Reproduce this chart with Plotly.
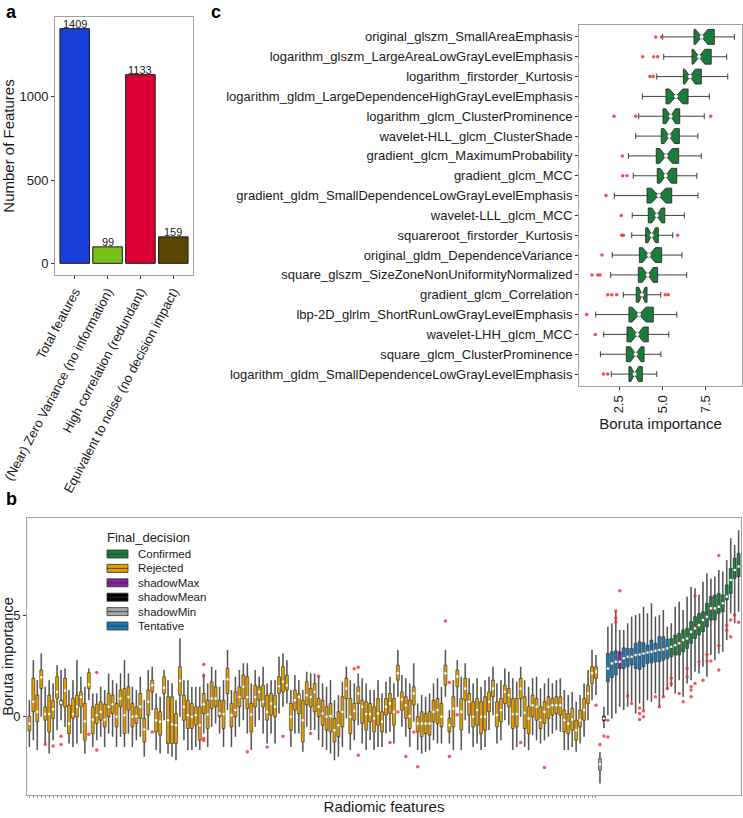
import plotly.graph_objects as go

W, H = 743, 818
def px(x): return x / W
def py(y): return 1 - y / H

FONT = "Liberation Sans, Arial, sans-serif"
TXT = "#1a1a1a"
FRAME = "#a0a0a0"

# ---------------- Panel a data ----------------
a_categories = ["Total features", "(Near) Zero Variance (no information)",
                "High correlation (redundant)", "Equivalent to noise (no decision impact)"]
a_counts = [1409, 99, 1133, 159]
a_colors = ["#1a3fd9", "#79bf1b", "#d80032", "#5a4500"]

# ---------------- Panel c data (top to bottom) ----------------
c_features = [
    "original_glszm_SmallAreaEmphasis",
    "logarithm_glszm_LargeAreaLowGrayLevelEmphasis",
    "logarithm_firstorder_Kurtosis",
    "logarithm_gldm_LargeDependenceHighGrayLevelEmphasis",
    "logarithm_glcm_ClusterProminence",
    "wavelet-HLL_glcm_ClusterShade",
    "gradient_glcm_MaximumProbability",
    "gradient_glcm_MCC",
    "gradient_gldm_SmallDependenceLowGrayLevelEmphasis",
    "wavelet-LLL_glcm_MCC",
    "squareroot_firstorder_Kurtosis",
    "original_gldm_DependenceVariance",
    "square_glszm_SizeZoneNonUniformityNormalized",
    "gradient_glcm_Correlation",
    "lbp-2D_glrlm_ShortRunLowGrayLevelEmphasis",
    "wavelet-LHH_glcm_MCC",
    "square_glcm_ClusterProminence",
    "logarithm_gldm_SmallDependenceLowGrayLevelEmphasis",
]
c_q1 = [6.81, 6.70, 6.20, 5.20, 5.03, 4.93, 4.64, 4.70, 4.11, 4.18, 4.03, 3.67, 3.61, 3.49, 3.07, 2.96, 2.92, 3.07]
c_med = [7.25, 7.10, 6.58, 5.78, 5.47, 5.39, 5.20, 5.18, 4.78, 4.67, 4.38, 4.22, 4.15, 3.82, 3.65, 3.55, 3.46, 3.40]
c_q3 = [7.98, 7.80, 7.23, 6.47, 5.99, 5.97, 5.93, 5.82, 5.53, 5.13, 4.76, 4.95, 4.72, 4.11, 4.47, 4.18, 3.94, 3.84]
c_lo = [5.01, 5.07, 4.67, 3.84, 3.63, 3.46, 3.04, 3.32, 2.23, 3.26, 3.23, 2.11, 2.02, 2.75, 1.16, 1.62, 1.43, 2.06]
c_hi = [9.13, 8.69, 8.75, 7.69, 7.40, 7.04, 7.23, 6.97, 7.04, 6.25, 5.59, 6.12, 6.39, 4.90, 5.82, 5.36, 4.91, 4.67]
c_notch = [0.35, 0.33, 0.30, 0.38, 0.28, 0.30, 0.37, 0.32, 0.42, 0.28, 0.22, 0.37, 0.32, 0.18, 0.40, 0.35, 0.30, 0.22]
c_out_feature = [0, 0, 1, 1, 1, 2, 2, 4, 4, 4, 6, 7, 7, 8, 9, 10, 10, 10, 11, 12, 12, 12, 13, 13, 13, 13, 13, 14, 15, 17, 17]
c_out_value = [4.61, 4.95, 3.86, 4.49, 4.72, 4.28, 4.47, 2.21, 3.46, 7.77, 2.69, 2.71, 2.96, 1.75, 2.63,
               2.66, 2.75, 5.87, 1.52, 0.95, 1.28, 1.41, 1.85, 2.08, 2.37, 5.16, 5.33, 0.64, 1.14, 1.60, 1.85]

# ---------------- Panel b data (180 features, left to right) ----------------
b_med = [
    -0.37, 0.71, 0.21, 1.92, 0.10, 0.10, 0.34, 1.20, 0.66, 1.26,
    -0.37, 0.10, 0.46, 0.95, -0.25, 1.56, -0.17, 0.05, 0.21, -0.17,
    0.46, 0.59, -0.03, 0.87, 0.05, 0.95, -0.03, 0.00, 0.46, -0.66,
    0.71, 1.53, -0.20, -0.28, 1.40, -0.20, -0.40, -0.45, 1.75, 0.46,
    0.05, -0.03, 0.05, -0.45, 0.59, 0.08, 0.87, 0.87, 0.13, 0.10,
    1.82, 0.05, 0.30, 0.95, 1.45, 0.95, 0.08, 0.95, 1.20, 0.71,
    0.21, 0.63, 0.46, 1.48, 1.70, 1.53, -0.03, 0.79, 0.95, -0.20,
    1.03, 0.95, 1.20,
    0.46, 0.13, -0.03, 0.00, -0.70, -0.45, 0.21, 1.36, -0.03, 0.26,
    1.12, 0.46, 0.10, 0.10, -0.12, 0.13, -0.28, 0.46, 0.63, 0.21,
    2.12, 0.82, 0.54, 0.00, 1.12, -0.37, -0.37, -0.37, -0.37, 0.21,
    0.30, -0.03, 2.12, -0.45, 0.38, 1.96, 0.21, 1.36, 0.71, -0.03,
    0.30, -0.03, -0.03, 0.71, 1.36, 0.05, 0.30, 1.20, 1.03, 0.10,
    0.10, 1.36, 0.16, -0.12, 0.54, 0.46, -0.20, 0.21, 0.46, 0.54,
    0.54, 0.54, -0.20, -0.37, -0.17, -0.70, -0.20, 0.30, 1.12, 2.12,
    2.20,
    -2.38, -0.12,
    2.36, 2.61, 2.69, 2.69, 2.86, 2.94, 2.94, 3.02, 3.05, 3.10,
    3.15, 3.18, 3.23, 3.27, 3.30, 3.35,
    3.43, 3.51, 3.60, 3.76, 3.84, 4.17, 4.34, 4.50, 4.75, 4.91,
    5.33, 5.33, 5.41, 5.58, 5.91, 6.73, 7.23, 7.40,
]
b_q1 = [
    -0.73, 0.22, -0.28, 1.37, -0.20, -0.78, -0.11, 0.87, 0.55, 0.46,
    -0.86, -0.11, -0.03, 0.46, -1.19, 1.37, -0.86, -0.36, -0.20, -0.53,
    -0.03, 0.13, -0.53, 0.46, -0.86, 0.30, -0.53, -0.36, -0.11, -1.27,
    0.05, 1.20, -0.78, -0.94, 1.12, -1.35, -1.35, -1.35, 1.04, -0.20,
    -0.61, -0.61, -0.45, -1.19, 0.13, -0.61, 0.38, 0.46, -0.03, -0.61,
    1.12, -0.53, -0.03, 0.46, 0.87, 0.38, -0.78, 0.46, 0.79, 0.46,
    -0.20, 0.05, -0.03, 1.12, 1.20, 1.29, -0.69, 0.30, 0.13, -1.27,
    0.55, 0.46, 0.22,
    -0.03, -0.45, -0.69, -0.78, -1.27, -1.02, -0.53, 0.87, -0.86, -0.20,
    0.63, -0.36, -0.69, -0.28, -0.78, -0.45, -0.78, 0.05, 0.13, -0.45,
    1.78, 0.30, -0.11, -0.61, 0.55, -0.78, -1.02, -0.86, -0.94, -0.28,
    -0.36, -0.53, 1.53, -0.78, -0.53, 1.45, -0.69, 0.79, 0.05, -0.53,
    -0.45, -0.86, -0.69, 0.22, 0.96, -0.53, -0.28, 0.63, 0.46, -0.61,
    -0.53, 0.87, -0.61, -0.86, -0.03, -0.20, -0.61, -0.36, -0.11, 0.05,
    0.13, 0.05, -0.78, -0.86, -0.69, -1.19, -0.53, -0.20, 0.63, 1.62,
    1.87,
    -2.67, -0.23,
    1.70, 1.91, 2.03, 2.36, 2.36, 2.44, 2.53, 2.36, 2.31, 2.44,
    2.61, 2.64, 2.69, 2.69, 2.77, 2.85,
    2.94, 3.02, 3.02, 3.19, 3.35, 3.60, 3.84, 4.01, 4.18, 4.42,
    4.75, 4.75, 5.08, 5.16, 5.74, 6.07, 6.81, 6.90,
]
b_q3 = [
    0.00, 1.87, 1.04, 2.28, 0.46, 1.04, 0.79, 1.95, 0.79, 1.87,
    0.55, 0.87, 1.04, 1.20, 0.63, 2.15, 0.46, 0.59, 0.71, 0.59,
    1.12, 1.04, 0.63, 1.29, 1.37, 1.45, 0.63, 0.46, 1.12, -0.11,
    1.29, 1.78, 0.38, 0.22, 1.95, 0.96, 0.96, 0.13, 2.44, 1.04,
    0.79, 0.63, 0.46, 0.46, 1.12, 0.79, 1.70, 1.45, 0.79, 0.79,
    2.36, 0.63, 1.20, 1.45, 2.03, 1.95, 0.63, 1.53, 1.45, 1.53,
    1.04, 1.12, 1.04, 1.95, 2.44, 2.03, 0.63, 1.29, 1.12, 0.79,
    1.70, 1.37, 1.62,
    0.87, 0.79, 0.46, 0.63, -0.11, 0.22, 0.96, 1.87, 0.87, 0.63,
    1.45, 0.79, 0.71, 0.63, 0.46, 0.87, 0.22, 0.87, 1.12, 0.87,
    2.52, 1.20, 0.96, 0.79, 1.45, -0.03, 0.22, 0.13, 0.22, 0.79,
    0.87, 0.63, 2.52, -0.11, 0.96, 2.28, 0.87, 1.87, 1.12, 0.71,
    0.87, 0.71, 0.96, 1.20, 1.78, 0.71, 0.87, 1.53, 1.37, 0.87,
    0.87, 1.87, 0.96, 0.46, 1.04, 0.87, 0.46, 0.71, 0.96, 0.87,
    0.96, 0.96, 0.30, 0.13, 0.38, -0.20, 0.30, 0.87, 1.53, 2.44,
    2.44,
    -2.10, 0.00,
    3.10, 3.19, 3.23, 3.19, 3.38, 3.35, 3.35, 3.60, 3.68, 3.63,
    3.52, 3.76, 3.60, 3.93, 3.93, 3.80,
    3.84, 4.01, 4.09, 4.26, 4.34, 4.67, 4.92, 5.08, 5.16, 5.58,
    5.91, 5.99, 6.07, 5.99, 6.49, 7.31, 7.81, 8.05,
]
b_lo = [
    -1.52, -1.19, -1.68, -0.03, -1.35, -1.85, -1.19, -0.69, -0.20, -0.53,
    -1.35, -1.52, -1.35, -0.86, -1.85, 0.79, -1.52, -1.19, -1.02, -1.52,
    -0.86, -1.02, -1.52, -1.02, -1.52, -0.86, -1.52, -1.19, -1.02, -2.01,
    -0.69, 0.30, -1.68, -1.85, -0.20, -1.85, -2.01, -2.18, -0.03, -1.19,
    -1.68, -1.68, -1.52, -1.68, -0.86, -1.52, -0.53, -0.36, -0.86, -1.52,
    0.30, -1.52, -1.02, -0.53, -0.20, -0.86, -1.68, -0.53, -0.20, -0.86,
    -1.35, -0.86, -1.35, 0.13, 0.46, 0.63, -1.52, -0.86, -0.86, -1.76,
    -0.53, -0.69, -0.69,
    -1.19, -1.52, -1.68, -1.85, -2.18, -2.01, -1.52, -0.11, -1.68, -1.19,
    -0.45, -1.35, -1.68, -1.19, -1.68, -1.52, -1.52, -0.86, -0.78, -1.35,
    0.96, -0.53, -1.02, -1.52, -0.28, -1.68, -1.85, -1.76, -1.68, -1.19,
    -1.35, -1.35, 0.96, -1.35, -1.68, 0.46, -1.68, -0.20, -0.86, -1.52,
    -1.35, -1.68, -1.52, -0.69, 0.05, -1.35, -1.19, -0.20, -0.45, -1.68,
    -1.52, -0.03, -1.52, -1.68, -0.94, -1.19, -1.35, -1.19, -1.02, -0.86,
    -0.69, -0.78, -1.68, -1.68, -1.52, -1.76, -1.35, -1.02, -0.20, 0.79,
    1.04,
    -3.33, -0.59,
    0.05, -0.12, 0.13, 0.46, 0.30, 0.46, 0.71, 0.13, 0.63, 0.30,
    0.79, 0.71, 1.12, 0.46, 0.96, 1.29,
    1.45, 1.12, 1.78, 0.96, 1.62, 1.78, 2.20, 2.11, 2.44, 1.95,
    3.02, 2.77, 3.10, 3.19, 3.76, 5.08, 4.59, 5.16,
]
b_hi = [
    0.79, 2.77, 1.78, 3.10, 1.45, 1.78, 1.62, 2.52, 2.28, 2.36,
    1.29, 1.78, 2.77, 1.95, 1.45, 2.36, 1.12, 1.12, 1.45, 1.29,
    2.11, 1.78, 1.62, 2.11, 2.77, 2.11, 1.45, 1.29, 1.95, 0.79,
    2.28, 2.44, 1.12, 0.96, 2.28, 1.78, 1.62, 0.79, 3.85, 1.78,
    1.78, 1.45, 1.45, 1.45, 2.11, 1.62, 2.44, 2.28, 1.45, 1.78,
    3.27, 1.29, 1.95, 2.28, 2.61, 2.61, 1.62, 2.28, 1.95, 2.44,
    1.62, 1.78, 1.78, 2.94, 3.10, 2.77, 1.29, 2.03, 1.78, 1.29,
    2.19, 2.11, 2.11,
    1.95, 1.62, 1.45, 1.78, 0.79, 1.04, 1.70, 2.44, 1.78, 1.62,
    2.11, 1.87, 1.62, 1.29, 1.29, 1.78, 1.12, 1.70, 1.95, 1.62,
    3.27, 2.03, 1.87, 1.62, 2.61, 0.63, 1.04, 0.96, 1.12, 1.62,
    1.87, 1.45, 3.27, 0.30, 1.78, 2.77, 1.95, 2.61, 1.87, 1.62,
    1.87, 1.45, 1.78, 1.95, 2.44, 1.62, 1.78, 2.36, 2.19, 1.87,
    1.70, 2.44, 1.78, 1.45, 1.87, 1.95, 1.37, 1.62, 1.87, 1.62,
    1.78, 1.87, 1.29, 1.04, 1.20, 0.71, 1.04, 1.62, 2.28, 3.27,
    3.02,
    -1.77, 0.46,
    4.42, 4.59, 5.16, 4.26, 4.26, 4.59, 4.92, 5.00, 5.08, 5.41,
    5.08, 5.58, 4.92, 5.00, 5.25, 4.42,
    4.59, 5.41, 5.66, 5.25, 5.91, 6.40, 6.32, 6.00, 6.65, 7.06,
    6.80, 6.90, 7.23, 7.15, 7.72, 8.80, 8.46, 9.20,
]
b_class = (["Rejected"] * 144 + ["shadowMin", "shadowMean"] + ["Tentative"] * 3
           + ["shadowMax"] + ["Tentative"] * 12 + ["Confirmed"] * 18)
b_out_idx = [4, 6, 8, 8, 15, 17, 17, 31, 44, 44, 44, 44, 55, 60, 64, 71, 73, 82, 83, 83,
             91, 93, 95, 97, 98, 105, 106, 106, 108, 124, 130, 143, 144, 145,
             146, 146, 148, 148, 148, 149, 151, 152, 154, 154, 154, 155, 155, 158, 159, 160,
             161, 162, 162, 164, 165, 166, 166, 167, 167, 167, 168, 168, 169, 170, 171, 171,
             172, 174, 174, 174, 176, 176, 177, 177, 178, 179]
b_out_val = [-1.40, -1.48, -0.99, -1.40, -0.89, 2.16, -1.68, -0.78, 2.56, 1.98, -1.10, -1.20,
             -1.76, -1.52, -0.99, -0.86, 1.97, 2.35, 2.42, -1.93,
             -1.30, 0.20, -2.00, -0.78, -2.50, 4.70, 1.67, -2.00, 0.07, -1.30, -2.54, 0.54,
             -1.40, -0.98,
             -0.20, -1.03, 5.20, 4.85, 4.65, 6.20, 1.00, 0.63, 0.40, 0.13, -0.17, 0.25, -0.03,
             0.96, 0.46, 0.96,
             1.37, 1.87, 1.60, 1.12, 0.71, 2.36, 1.95, 1.45, 1.29, 0.96, 1.62, 5.95, 2.69, 1.78,
             3.06, 2.73, 2.73, 7.95, 2.28, 3.50, 4.50, 4.25, 4.75, 3.93, 5.00, 4.65]

class_order = ["Confirmed", "Rejected", "shadowMax", "shadowMean", "shadowMin", "Tentative"]
class_colors = {"Confirmed": "#1b7d3a", "Rejected": "#e69f00", "shadowMax": "#8b1fa8",
                "shadowMean": "#000000", "shadowMin": "#a6a6a6", "Tentative": "#1f78b4"}

fig = go.Figure()

# ---- Panel a: bars ----
fig.add_trace(go.Bar(
    x=a_categories, y=a_counts, width=0.9,
    marker=dict(color=a_colors, line=dict(color="#1a1a1a", width=1)),
    xaxis="x", yaxis="y", showlegend=False, hoverinfo="x+y"))

annotations = []
for cat, v in zip(a_categories, a_counts):
    annotations.append(dict(x=cat, y=v, xref="x", yref="y", text=str(v), showarrow=False,
                            yanchor="bottom", yshift=-3, font=dict(size=11, color=TXT, family=FONT)))

# ---- Panel c: notched horizontal boxes ----
c_pos = list(range(len(c_features)))
fig.add_trace(go.Box(
    y=c_pos, q1=c_q1, median=c_med, q3=c_q3, lowerfence=c_lo, upperfence=c_hi,
    notched=True, notchspan=c_notch, notchwidth=0.5, orientation="h",
    width=0.75, whiskerwidth=0.4, fillcolor="#1b7d3a",
    line=dict(color="#2a2a2a", width=0.9), boxpoints=False,
    xaxis="x2", yaxis="y2", showlegend=False))
fig.add_trace(go.Scatter(
    x=c_out_value, y=c_out_feature, mode="markers",
    marker=dict(color="rgba(255,40,40,0.85)", size=3.5),
    xaxis="x2", yaxis="y2", showlegend=False))
fig.add_trace(go.Scatter(
    x=c_med, y=c_pos, mode="markers",
    marker=dict(color="white", size=4.5, line=dict(color="#333", width=0.5)),
    xaxis="x2", yaxis="y2", showlegend=False))

# ---- Panel b ----
b_pos = list(range(len(b_med)))
# grey halo along each whisker (drawn first so the boxes sit on top)
fig.add_trace(go.Box(
    x=b_pos, q1=b_lo, median=b_med, q3=b_hi, lowerfence=b_lo, upperfence=b_hi,
    width=0.42, whiskerwidth=0, fillcolor="rgba(95,95,95,0.75)",
    line=dict(color="rgba(95,95,95,0.0)", width=0), boxpoints=False,
    xaxis="x3", yaxis="y3", showlegend=False, hoverinfo="skip"))
for cls in class_order:
    idx = [i for i in b_pos if b_class[i] == cls]
    fig.add_trace(go.Box(
        x=idx, q1=[b_q1[i] for i in idx], median=[b_med[i] for i in idx],
        q3=[b_q3[i] for i in idx], lowerfence=[b_lo[i] for i in idx],
        upperfence=[b_hi[i] for i in idx], width=0.75, whiskerwidth=0,
        fillcolor=class_colors[cls], line=dict(color="#2a2a2a", width=0.6),
        boxpoints=False, name=cls, xaxis="x3", yaxis="y3", showlegend=False))
fig.add_trace(go.Scatter(
    x=b_out_idx, y=b_out_val, mode="markers",
    marker=dict(color="rgba(255,40,40,0.8)", size=3.5),
    xaxis="x3", yaxis="y3", showlegend=False))
fig.add_trace(go.Scatter(
    x=b_pos, y=b_med, mode="markers",
    marker=dict(color="white", size=2.6),
    xaxis="x3", yaxis="y3", showlegend=False))

# manual legend for panel b
shapes = []
annotations.append(dict(x=px(105), y=py(537), xref="paper", yref="paper", text="Final_decision",
                        showarrow=False, xanchor="left", yanchor="middle",
                        font=dict(size=13, color=TXT, family=FONT)))
for k, cls in enumerate(class_order):
    yc = 554 + 14.4 * k
    shapes.append(dict(type="rect", xref="paper", yref="paper",
                       x0=px(107), x1=px(128), y0=py(yc + 4), y1=py(yc - 4),
                       fillcolor=class_colors[cls], line=dict(color="#333", width=0.8)))
    shapes.append(dict(type="line", xref="paper", yref="paper",
                       x0=px(107), x1=px(128), y0=py(yc), y1=py(yc),
                       line=dict(color="#333", width=0.8)))
    annotations.append(dict(x=px(136), y=py(yc), xref="paper", yref="paper", text=cls,
                            showarrow=False, xanchor="left", yanchor="middle",
                            font=dict(size=11.5, color=TXT, family=FONT)))

# panel letters
for letter, x, y in [("a", 11, 0), ("c", 216, 0), ("b", 11, 487)]:
    annotations.append(dict(x=px(x), y=py(y), xref="paper", yref="paper", text=f"<b>{letter}</b>",
                            showarrow=False, xanchor="center", yanchor="top",
                            font=dict(size=18, color="#000", family=FONT)))

frame = dict(showline=True, mirror=True, linecolor=FRAME, linewidth=1, showgrid=False,
             zeroline=False, automargin=False)

fig.update_layout(
    width=W, height=H, margin=dict(l=0, r=0, t=0, b=0, autoexpand=False),
    paper_bgcolor="white", plot_bgcolor="white",
    font=dict(family=FONT, color=TXT), boxmode="overlay", showlegend=False,
    xaxis=dict(domain=[px(55), px(193)], anchor="y", range=[-0.6, 3.6], tickangle=-62,
               ticks="outside", ticklen=3, tickcolor="#333",
               tickfont=dict(size=13, color=TXT), **frame),
    yaxis=dict(domain=[py(275), py(17)], anchor="x", range=[-70, 1479], tickvals=[0, 500, 1000],
               ticks="outside", ticklen=3, tickcolor="#333", tickfont=dict(size=13, color=TXT),
               title=dict(text="Number of Features", font=dict(size=15, color=TXT), standoff=10),
               **frame),
    xaxis2=dict(domain=[px(579), px(742)], anchor="y2", range=[0.2, 9.57],
                tickvals=[2.5, 5.0, 7.5], ticktext=["2.5", "5.0", "7.5"], tickangle=-90,
                ticks="outside", ticklen=3, tickcolor="#333", tickfont=dict(size=13, color=TXT),
                title=dict(text="Boruta importance", font=dict(size=15, color=TXT), standoff=6),
                **frame),
    yaxis2=dict(domain=[py(386), py(25)], anchor="x2", range=[17.6, -0.6],
                tickvals=c_pos, ticktext=c_features, ticks="outside", ticklen=3,
                tickcolor="#333", tickfont=dict(size=13, color=TXT), **frame),
    xaxis3=dict(domain=[px(27), px(741)], anchor="y3", range=[-0.6, 179.6],
                tickvals=list(range(144)), showticklabels=False, ticks="outside", ticklen=2,
                tickwidth=0.6, tickcolor="#999",
                title=dict(text="Radiomic features", font=dict(size=15, color=TXT), standoff=4),
                **frame),
    yaxis3=dict(domain=[py(795), py(518)], anchor="x3", range=[-3.9, 9.8], tickvals=[0, 5],
                ticks="outside", ticklen=3, tickcolor="#333", tickfont=dict(size=13, color=TXT),
                title=dict(text="Boruta importance", font=dict(size=14.5, color=TXT), standoff=2),
                **frame),
    annotations=annotations, shapes=shapes,
)

fig.write_html("out.html")
